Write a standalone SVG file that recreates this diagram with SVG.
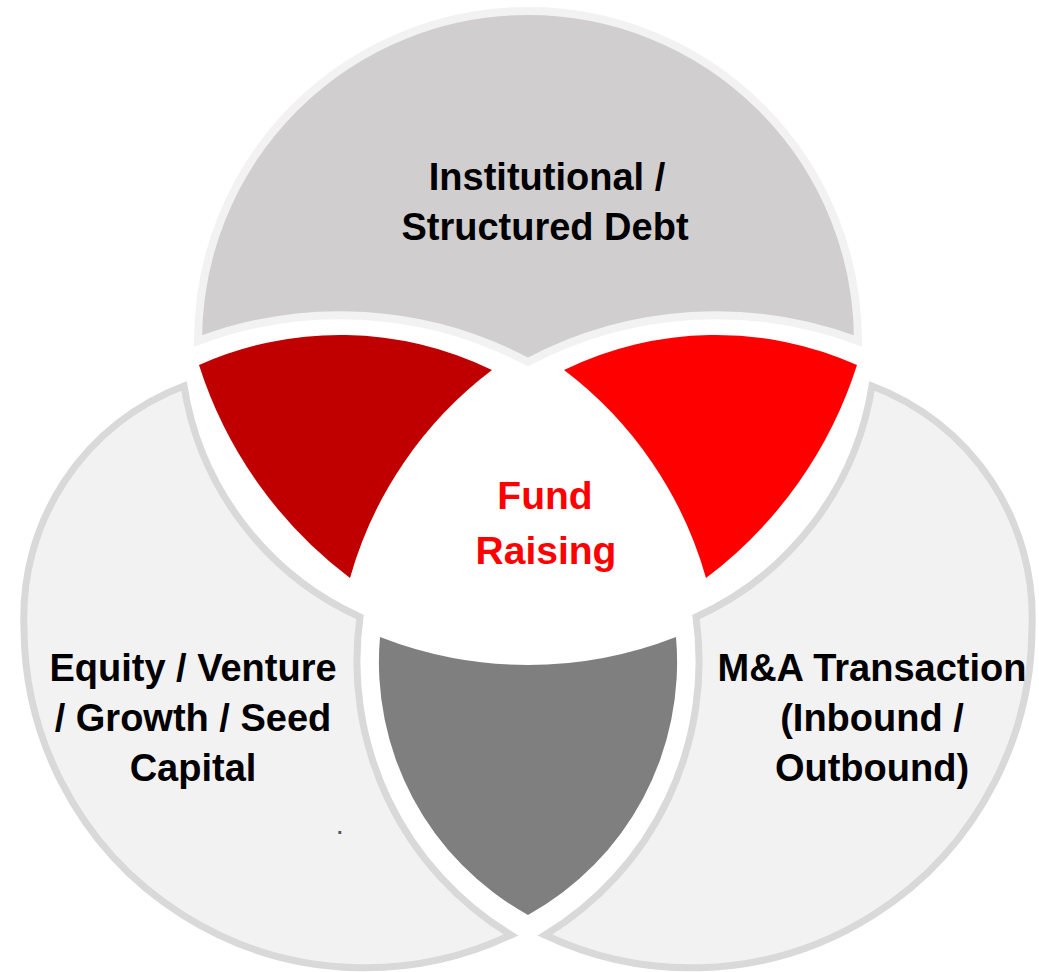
<svg xmlns="http://www.w3.org/2000/svg" width="1039" height="972" viewBox="0 0 1039 972">
<style>
.bg{fill:#ffffff}
.excl-top{fill:#d0cece;stroke:#f2f2f2;stroke-width:8;stroke-linejoin:miter;stroke-miterlimit:6}
.excl-side{fill:#f2f2f2;stroke:#d9d9d9;stroke-width:7;stroke-linejoin:miter;stroke-miterlimit:6}
.ov-dark{fill:#c00000}
.ov-bright{fill:#ff0000}
.ov-gray{fill:#7f7f7f}
.lbl{font-family:"Liberation Sans",Arial,sans-serif;font-weight:bold;font-size:38px;text-anchor:middle;fill:#000000}
.lbl-red{font-family:"Liberation Sans",Arial,sans-serif;font-weight:bold;font-size:39px;text-anchor:middle;fill:#ff0000}
.dot{font-family:"Liberation Sans",Arial,sans-serif;font-weight:bold;font-size:20px;fill:#595959}
</style>
<rect class="bg" x="0" y="0" width="1039" height="972"/>

<g id="node-institutional-debt">
<path class="excl-top" d="M198,341 A330,330 0 0 1 858,341 A402,402 0 0 0 528,362 A402,402 0 0 0 198,341 Z"/>
<text class="lbl" x="547" y="190">Institutional /</text>
<text class="lbl" x="545" y="240">Structured Debt</text>
</g>

<g id="node-equity-capital">
<path class="excl-side" d="M184,386 A247,247 0 0 0 24,628 A341,341 0 0 0 511,935 A320,320 0 0 1 360,617 A306,306 0 0 1 184,386 Z"/>
<text class="lbl" x="193" y="681">Equity / Venture</text>
<text class="lbl" x="193" y="731">/ Growth / Seed</text>
<text class="lbl" x="193" y="781">Capital</text>
<text class="dot" x="337" y="834">.</text>
</g>

<g id="node-ma-transaction">
<path class="excl-side" d="M872,386 A247,247 0 0 1 1032,628 A341,341 0 0 1 545,935 A320,320 0 0 0 696,617 A306,306 0 0 0 872,386 Z"/>
<text class="lbl" x="872" y="681">M&amp;A Transaction</text>
<text class="lbl" x="872" y="731">(Inbound /</text>
<text class="lbl" x="872" y="781">Outbound)</text>
</g>

<g id="node-overlap-debt-equity">
<path class="ov-dark" d="M199,365 A346,346 0 0 1 492,370 A395,395 0 0 0 350,578 A430,430 0 0 1 199,365 Z"/>
</g>

<g id="node-overlap-debt-ma">
<path class="ov-bright" d="M857,365 A346,346 0 0 0 564,370 A395,395 0 0 1 706,578 A430,430 0 0 0 857,365 Z"/>
</g>

<g id="node-overlap-equity-ma">
<path class="ov-gray" d="M380,637 A405,405 0 0 0 676,637 A289,289 0 0 1 528,915 A289,289 0 0 1 380,637 Z"/>
</g>

<g id="node-fund-raising">
<text class="lbl-red" x="545" y="509">Fund</text>
<text class="lbl-red" x="546" y="564">Raising</text>
</g>

<g id="connectors"></g>
</svg>
